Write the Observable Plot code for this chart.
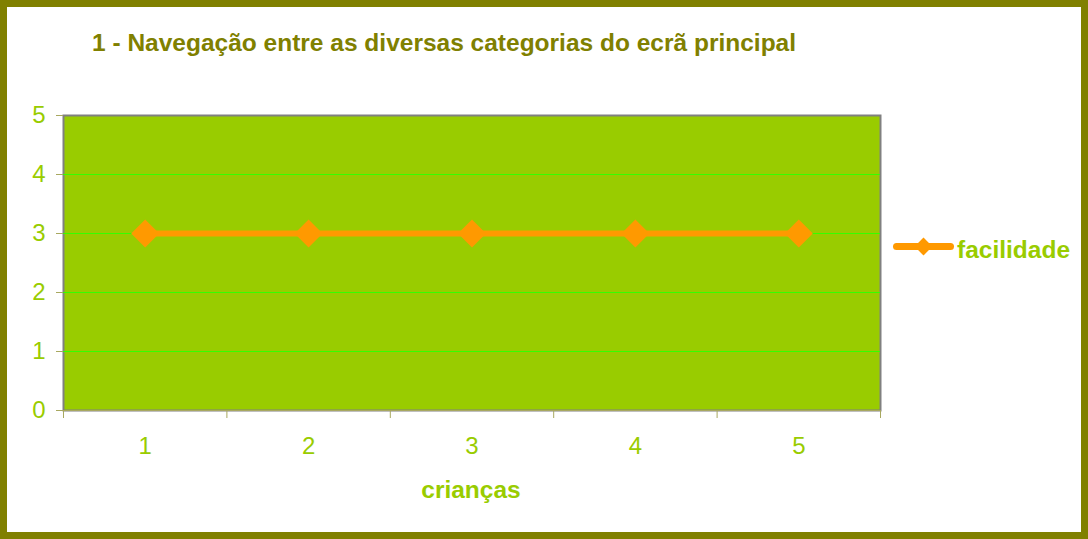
<!DOCTYPE html>
<html><head><meta charset="utf-8">
<script src="https://cdn.jsdelivr.net/npm/d3@7"></script>
<script src="https://cdn.jsdelivr.net/npm/@observablehq/plot@0.6"></script>
<style>
body{margin:0;background:#fff;font-family:"Liberation Sans",Arial,sans-serif;}
#frame{position:absolute;left:0;top:0;width:1088px;height:539px;box-sizing:border-box;border:7px solid #808000;background:#fff;}
#chart{position:absolute;left:0;top:0;}
.t{position:absolute;font-weight:bold;white-space:nowrap;line-height:1;}
</style></head>
<body>
<div id="frame"></div>
<div id="chart"></div>
<div class="t" id="title" style="left:92px;top:31px;font-size:24.5px;color:#808000;">1 - Navegação entre as diversas categorias do ecrã principal</div>
<div class="t" id="xlabel" style="left:0;width:942px;text-align:center;top:478px;font-size:24.5px;color:#99cc00;">crianças</div>
<div class="t" id="legend" style="left:957px;top:238px;font-size:24.5px;color:#99cc00;">facilidade</div>
<script>
const criancas = [1, 2, 3, 4, 5];
const facilidade = [3, 3, 3, 3, 3];
const yTicks = [0, 1, 2, 3, 4, 5];
const xEdges = [0.5, 1.5, 2.5, 3.5, 4.5, 5.5];
const seriesName = "facilidade";

const data = criancas.map((c, i) => ({c, v: facilidade[i]}));
const orange = "#ff9900";

const plot = Plot.plot({
  width: 1088, height: 539,
  marginLeft: 63, marginRight: 208, marginTop: 115, marginBottom: 129,
  style: {background: "transparent", fontFamily: "Liberation Sans, Arial, sans-serif", fontSize: "24px", overflow: "visible"},
  x: {type: "linear", domain: [0.5, 5.5]},
  y: {domain: [0, 5]},
  marks: [
    Plot.frame({fill: "#99cc00", stroke: "#808080", strokeWidth: 2}),
    Plot.gridY([1, 2, 3, 4], {stroke: "#33ff00", strokeOpacity: 1, strokeWidth: 1}),
    Plot.axisY(yTicks, {tickSize: 7, tickPadding: 11, stroke: "#a8a860", fill: "#99cc00", tickFormat: d => d, label: null, fontSize: 24}),
    Plot.axisX(xEdges, {tickSize: 8, stroke: "#a8a860", tickFormat: () => "", label: null}),
    Plot.axisX(criancas, {tickSize: 0, tickPadding: 26, fill: "#99cc00", tickFormat: d => d, label: null, fontSize: 24}),
    Plot.ruleY([0], {stroke: "#a8a860", strokeWidth: 1}),
    Plot.line(data, {x: "c", y: "v", stroke: orange, strokeWidth: 6}),
    Plot.dot(data, {x: "c", y: "v", symbol: "diamond2", r: 12.6, fill: orange, stroke: "none"})
  ]
});
document.getElementById("chart").appendChild(plot);

// legend sample drawn with Plot
const leg = Plot.plot({
  width: 54, height: 30, margin: 0,
  x: {domain: [0, 1], axis: null}, y: {domain: [0, 1], axis: null},
  style: {background: "transparent", overflow: "visible"},
  marks: [
    Plot.line([{x: 0, y: 0.5}, {x: 1, y: 0.5}], {x: "x", y: "y", stroke: orange, strokeWidth: 7, strokeLinecap: "round"}),
    Plot.dot([{x: 0.5, y: 0.5, s: seriesName}], {x: "x", y: "y", symbol: "diamond2", r: 8, fill: orange})
  ]
});
leg.style.position = "absolute";
leg.style.left = "896px";
leg.style.top = "231px";
document.body.appendChild(leg);
</script>
</body></html>
